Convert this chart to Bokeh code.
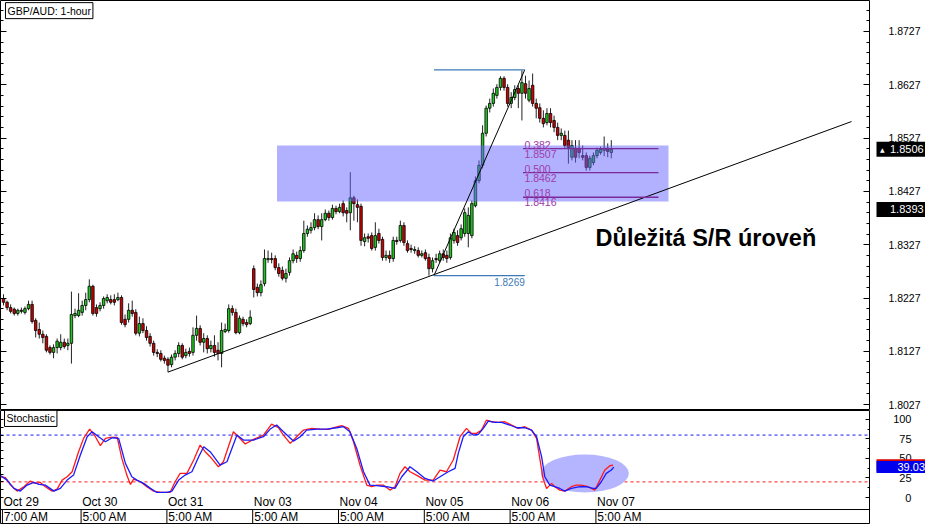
from bokeh.plotting import figure
from bokeh.models import (Range1d, LinearAxis, FixedTicker, Label, Span,
                          ColumnDataSource, PrintfTickFormatter)
from bokeh.layouts import column, row
from bokeh.core.properties import value
from bokeh.embed import file_html
from bokeh.resources import INLINE

# ---------------- data (GBP/AUD 1-hour candles) ----------------
opens = [
    1.8226, 1.8219, 1.8209, 1.8206, 1.8198, 1.8204, 1.8200, 1.8207, 1.8215, 1.8185,
    1.8168, 1.8159, 1.8155, 1.8134, 1.8125, 1.8134, 1.8134, 1.8144, 1.8138, 1.8142,
    1.8194, 1.8194, 1.8200, 1.8213, 1.8224, 1.8249, 1.8209, 1.8207, 1.8213, 1.8222,
    1.8224, 1.8224, 1.8224, 1.8228, 1.8187, 1.8187, 1.8204, 1.8200, 1.8161, 1.8179,
    1.8166, 1.8155, 1.8142, 1.8125, 1.8123, 1.8114, 1.8112, 1.8102, 1.8116, 1.8123,
    1.8138, 1.8119, 1.8127, 1.8125, 1.8157, 1.8170, 1.8144, 1.8151, 1.8132, 1.8138,
    1.8129, 1.8123, 1.8164, 1.8166, 1.8207, 1.8200, 1.8162, 1.8187, 1.8181, 1.8179,
    1.8282, 1.8247, 1.8237, 1.8254, 1.8299, 1.8301, 1.8301, 1.8284, 1.8279, 1.8264,
    1.8275, 1.8297, 1.8307, 1.8301, 1.8316, 1.8348, 1.8354, 1.8359, 1.8374, 1.8361,
    1.8374, 1.8386, 1.8378, 1.8395, 1.8389, 1.8404, 1.8391, 1.8387, 1.8415, 1.8402,
    1.8399, 1.8333, 1.8342, 1.8344, 1.8322, 1.8348, 1.8337, 1.8303, 1.8307, 1.8301,
    1.8335, 1.8335, 1.8363, 1.8329, 1.8320, 1.8316, 1.8316, 1.8307, 1.8312, 1.8303,
    1.8282, 1.8301, 1.8297, 1.8310, 1.8307, 1.8303, 1.8335, 1.8344, 1.8340, 1.8348,
    1.8348, 1.8344, 1.8400, 1.8447, 1.8476, 1.8536, 1.8583, 1.8592, 1.8607, 1.8622,
    1.8639, 1.8622, 1.8592, 1.8603, 1.8620, 1.8611, 1.8629, 1.8598, 1.8626, 1.8592,
    1.8584, 1.8564, 1.8556, 1.8573, 1.8560, 1.8547, 1.8532, 1.8532, 1.8523, 1.8491,
    1.8508, 1.8508, 1.8494, 1.8494, 1.8472, 1.8481, 1.8494, 1.8500, 1.8504, 1.8508,
    1.8500]
highs = [
    1.8234, 1.8222, 1.8215, 1.8209, 1.8207, 1.8209, 1.8211, 1.8222, 1.8222, 1.8189,
    1.8181, 1.8166, 1.8159, 1.8138, 1.8140, 1.8151, 1.8159, 1.8151, 1.8151, 1.8239,
    1.8207, 1.8236, 1.8222, 1.8237, 1.8262, 1.8252, 1.8215, 1.8219, 1.8230, 1.8234,
    1.8232, 1.8234, 1.8237, 1.8232, 1.8196, 1.8217, 1.8222, 1.8206, 1.8192, 1.8189,
    1.8174, 1.8161, 1.8147, 1.8131, 1.8129, 1.8119, 1.8116, 1.8121, 1.8129, 1.8144,
    1.8142, 1.8132, 1.8134, 1.8172, 1.8194, 1.8176, 1.8161, 1.8157, 1.8147, 1.8157,
    1.8144, 1.8181, 1.8179, 1.8215, 1.8213, 1.8207, 1.8194, 1.8192, 1.8187, 1.8204,
    1.8288, 1.8254, 1.8260, 1.8318, 1.8316, 1.8312, 1.8307, 1.8292, 1.8286, 1.8282,
    1.8303, 1.8318, 1.8314, 1.8324, 1.8372, 1.8363, 1.8369, 1.8386, 1.8382, 1.8386,
    1.8393, 1.8391, 1.8402, 1.8400, 1.8404, 1.8410, 1.8397, 1.8463, 1.8419, 1.8412,
    1.8404, 1.8348, 1.8348, 1.8350, 1.8369, 1.8357, 1.8342, 1.8316, 1.8316, 1.8342,
    1.8342, 1.8372, 1.8369, 1.8335, 1.8327, 1.8324, 1.8322, 1.8316, 1.8318, 1.8310,
    1.8303, 1.8310, 1.8316, 1.8318, 1.8316, 1.8348, 1.8357, 1.8354, 1.8365, 1.8395,
    1.8397, 1.8410, 1.8455, 1.8485, 1.8551, 1.8588, 1.8601, 1.8620, 1.8628, 1.8643,
    1.8643, 1.8628, 1.8613, 1.8626, 1.8626, 1.8654, 1.8644, 1.8635, 1.8648, 1.8601,
    1.8592, 1.8579, 1.8583, 1.8583, 1.8569, 1.8556, 1.8545, 1.8541, 1.8541, 1.8523,
    1.8523, 1.8523, 1.8513, 1.8500, 1.8494, 1.8500, 1.8509, 1.8511, 1.8530, 1.8517,
    1.8523]
lows = [
    1.8213, 1.8204, 1.8198, 1.8194, 1.8194, 1.8198, 1.8196, 1.8204, 1.8179, 1.8153,
    1.8151, 1.8142, 1.8125, 1.8121, 1.8114, 1.8123, 1.8129, 1.8132, 1.8129, 1.8104,
    1.8189, 1.8191, 1.8194, 1.8204, 1.8219, 1.8194, 1.8192, 1.8202, 1.8207, 1.8217,
    1.8215, 1.8213, 1.8221, 1.8177, 1.8172, 1.8181, 1.8192, 1.8157, 1.8155, 1.8161,
    1.8147, 1.8136, 1.8119, 1.8116, 1.8108, 1.8104, 1.8088, 1.8097, 1.8110, 1.8116,
    1.8112, 1.8114, 1.8117, 1.8119, 1.8147, 1.8138, 1.8125, 1.8123, 1.8125, 1.8117,
    1.8110, 1.8097, 1.8161, 1.8162, 1.8194, 1.8159, 1.8159, 1.8174, 1.8172, 1.8176,
    1.8228, 1.8230, 1.8230, 1.8249, 1.8293, 1.8292, 1.8279, 1.8267, 1.8260, 1.8256,
    1.8269, 1.8292, 1.8293, 1.8295, 1.8312, 1.8342, 1.8348, 1.8354, 1.8356, 1.8335,
    1.8371, 1.8372, 1.8374, 1.8384, 1.8386, 1.8380, 1.8369, 1.8354, 1.8372, 1.8369,
    1.8325, 1.8324, 1.8331, 1.8316, 1.8316, 1.8329, 1.8297, 1.8297, 1.8293, 1.8295,
    1.8327, 1.8331, 1.8325, 1.8312, 1.8312, 1.8310, 1.8303, 1.8303, 1.8297, 1.8269,
    1.8275, 1.8293, 1.8293, 1.8297, 1.8293, 1.8299, 1.8329, 1.8325, 1.8335, 1.8342,
    1.8322, 1.8339, 1.8397, 1.8442, 1.8470, 1.8530, 1.8575, 1.8586, 1.8601, 1.8616,
    1.8616, 1.8586, 1.8583, 1.8598, 1.8583, 1.8560, 1.8601, 1.8594, 1.8586, 1.8564,
    1.8556, 1.8547, 1.8551, 1.8547, 1.8538, 1.8523, 1.8523, 1.8508, 1.8479, 1.8485,
    1.8481, 1.8489, 1.8485, 1.8466, 1.8466, 1.8476, 1.8489, 1.8496, 1.8493, 1.8491,
    1.8489]
closes = [
    1.8219, 1.8209, 1.8202, 1.8198, 1.8204, 1.8202, 1.8207, 1.8215, 1.8183, 1.8166,
    1.8159, 1.8153, 1.8129, 1.8125, 1.8134, 1.8146, 1.8144, 1.8136, 1.8142, 1.8196,
    1.8198, 1.8204, 1.8213, 1.8224, 1.8249, 1.8198, 1.8198, 1.8213, 1.8226, 1.8228,
    1.8219, 1.8219, 1.8228, 1.8181, 1.8177, 1.8204, 1.8198, 1.8161, 1.8179, 1.8166,
    1.8153, 1.8142, 1.8125, 1.8123, 1.8112, 1.8110, 1.8101, 1.8116, 1.8123, 1.8138,
    1.8116, 1.8125, 1.8123, 1.8157, 1.8170, 1.8144, 1.8151, 1.8132, 1.8138, 1.8125,
    1.8123, 1.8166, 1.8168, 1.8207, 1.8200, 1.8162, 1.8189, 1.8179, 1.8177, 1.8191,
    1.8243, 1.8237, 1.8252, 1.8301, 1.8301, 1.8299, 1.8284, 1.8273, 1.8264, 1.8273,
    1.8297, 1.8310, 1.8301, 1.8316, 1.8348, 1.8356, 1.8359, 1.8374, 1.8361, 1.8374,
    1.8386, 1.8378, 1.8395, 1.8389, 1.8397, 1.8387, 1.8386, 1.8415, 1.8404, 1.8397,
    1.8335, 1.8340, 1.8339, 1.8320, 1.8344, 1.8335, 1.8303, 1.8307, 1.8301, 1.8335,
    1.8333, 1.8363, 1.8331, 1.8316, 1.8318, 1.8318, 1.8307, 1.8310, 1.8301, 1.8282,
    1.8297, 1.8299, 1.8310, 1.8303, 1.8301, 1.8340, 1.8350, 1.8331, 1.8357, 1.8387,
    1.8382, 1.8404, 1.8447, 1.8476, 1.8536, 1.8583, 1.8592, 1.8611, 1.8622, 1.8639,
    1.8622, 1.8592, 1.8603, 1.8618, 1.8611, 1.8631, 1.8611, 1.8620, 1.8592, 1.8583,
    1.8564, 1.8554, 1.8573, 1.8556, 1.8547, 1.8532, 1.8536, 1.8513, 1.8509, 1.8513,
    1.8491, 1.8500, 1.8491, 1.8472, 1.8489, 1.8494, 1.8504, 1.8506, 1.8508, 1.8502,
    1.8506]

# Stochastic %K (red) and %D (blue), sampled along the candle index
k_x = [-0.8, 0.6, 2.0, 3.8, 5.7, 7.5, 8.9, 10.3, 11.7, 13.6,
       15.0, 16.4, 17.8, 19.2, 21.0, 22.4, 24.1, 25.7, 27.1, 28.5,
       29.9, 31.8, 33.1, 34.5, 35.5, 36.4, 38.3, 40.1, 42.0, 43.9,
       45.7, 46.6, 48.0, 49.4, 51.3, 53.2, 55.0, 56.4, 57.8, 60.1,
       61.5, 64.3, 65.7, 67.6, 69.9, 72.7, 75.0, 76.9, 78.3, 80.2,
       82.0, 83.9, 86.2, 88.5, 90.9, 92.7, 94.6, 96.5, 97.9, 99.7,
       101.6, 103.0, 104.4, 106.2, 108.1, 109.5, 110.9, 112.3, 113.7, 115.5,
       117.9, 120.2, 122.1, 123.9, 125.8, 127.7, 129.5, 130.9, 132.3, 133.7,
       135.1, 136.5, 138.4, 140.2, 142.1, 144.0, 145.8, 147.7, 149.1, 150.0,
       150.9, 151.9, 153.3, 154.2, 155.6, 157.0, 158.8, 160.2, 161.6, 163.5,
       165.4, 166.8, 168.2, 169.6, 170.5]
k_vals = [26.6, 25.3, 15.9, 8.2, 13.8, 21.1, 18.1, 19.3, 13.8, 8.2,
          10.8, 22.3, 26.6, 33.0, 58.7, 75.8, 87.7, 77.9, 66.4, 75.8,
          77.0, 77.0, 50.1, 28.7, 16.8, 23.6, 20.2, 13.8, 8.2, 6.5,
          6.5, 6.5, 20.2, 30.9, 30.9, 48.0, 67.2, 58.7, 52.3, 39.4,
          45.8, 84.3, 77.9, 68.5, 74.5, 80.0, 94.1, 89.4, 80.0, 69.4,
          77.9, 86.4, 88.6, 87.7, 87.3, 89.9, 92.0, 88.6, 71.5, 41.6,
          15.9, 13.8, 15.9, 15.9, 9.5, 13.8, 30.9, 39.4, 33.0, 28.7,
          22.3, 22.3, 35.2, 33.0, 48.0, 77.9, 88.6, 82.2, 82.2, 86.4,
          99.3, 97.1, 96.3, 97.1, 92.9, 88.6, 90.7, 86.4, 75.8, 50.1,
          24.5, 11.6, 18.1, 13.8, 9.5, 8.2, 13.8, 15.9, 15.9, 13.8,
          9.5, 22.3, 35.2, 40.7, 41.6]
d_x = [-0.8, 1.0, 2.9, 4.7, 6.6, 8.5, 9.9, 11.7, 14.1, 15.9,
       17.8, 19.6, 21.5, 23.4, 24.8, 26.6, 28.5, 30.4, 32.2, 34.1,
       35.9, 37.3, 39.2, 41.1, 42.9, 45.7, 47.1, 49.0, 50.8, 52.7,
       54.6, 56.0, 57.8, 60.6, 62.5, 65.3, 67.1, 69.9, 72.7, 74.6,
       76.4, 78.3, 81.1, 83.0, 84.8, 87.6, 90.4, 93.2, 95.1, 96.9,
       98.8, 100.7, 102.5, 104.4, 107.2, 109.5, 111.4, 113.7, 115.6, 117.9,
       120.2, 122.1, 124.4, 126.3, 127.2, 128.6, 130.0, 131.4, 132.8, 134.2,
       135.6, 137.4, 139.3, 141.6, 143.5, 145.8, 147.7, 149.1, 150.5, 151.4,
       152.8, 154.2, 155.6, 157.0, 158.8, 161.2, 163.0, 164.9, 165.8, 167.2,
       168.6, 170.0, 170.7]
d_vals = [27.9, 22.3, 11.7, 8.2, 15.9, 19.3, 16.8, 15.9, 8.2, 11.7,
          22.3, 28.7, 54.4, 77.9, 84.3, 77.9, 71.5, 76.6, 75.8, 43.7,
          26.6, 22.3, 18.1, 11.7, 6.5, 6.5, 8.2, 22.3, 28.7, 33.0,
          52.3, 65.1, 58.7, 41.6, 45.8, 80.0, 73.6, 73.6, 77.9, 87.7,
          92.9, 84.3, 72.3, 77.9, 86.4, 87.7, 87.7, 89.4, 90.7, 84.3,
          62.9, 33.0, 15.9, 15.1, 13.8, 11.6, 26.6, 39.4, 33.0, 24.5,
          21.1, 26.6, 33.0, 37.3, 56.5, 77.9, 84.3, 80.0, 80.9, 88.6,
          98.0, 96.3, 96.3, 92.9, 89.4, 89.4, 86.4, 77.9, 52.3, 26.6,
          15.9, 13.8, 11.6, 8.2, 11.6, 13.8, 13.8, 11.6, 11.6, 20.2,
          30.9, 35.2, 39.03]

# axis ticks / labels
price_ticks = [1.8027, 1.8127, 1.8227, 1.8327, 1.8427, 1.8527, 1.8627, 1.8727]
stoch_ticks = [0, 25, 50, 75, 100]
stoch_levels = [80, 20]
date_idx = [0, 22, 46, 70, 94, 118, 142, 166]
date_day = ["Oct 29", "Oct 30", "Oct 31", "Nov 03", "Nov 04", "Nov 05", "Nov 06", "Nov 07"]
date_time = ["7:00 AM", "5:00 AM", "5:00 AM", "5:00 AM", "5:00 AM", "5:00 AM", "5:00 AM", "5:00 AM"]

# drawing-tool annotations
trend_idx = [46, 237.2]
trend_price = [1.8088, 1.8558]
swing_idx = [120.4, 145.8]
swing_price = [1.8269, 1.8655]
fib_ratios = [0.382, 0.500, 0.618]
fib_prices = [1.8507, 1.8462, 1.8416]
fib_span = [145.3, 183.2]
zone_idx = [76.5, 186.0]
zone_price = [1.8408, 1.8513]
sr_text = "Důležitá S/R úroveň"
sr_pos = [165.6, 1.8339]
marker_prices = [1.8506, 1.8393]     # current bid / horizontal line markers
stoch_markers = [41.4, 39.03]        # %K (hidden behind) and %D value markers

FONT = "Liberation Sans"
NB = "\u00a0"


# ---------------- helpers ----------------
def tick_axis(positions, length):
    # tick marks only (no labels): minor ticks of an axis that has no major ticks
    return LinearAxis(ticker=FixedTicker(ticks=[], minor_ticks=positions),
                      major_tick_in=0, major_tick_out=0, minor_tick_in=length,
                      minor_tick_out=0, axis_line_color=None, major_label_standoff=0)


def base_fig(**kw):
    f = figure(output_backend="svg", toolbar_location=None, x_axis_location=None,
               title=None, min_border_left=0, min_border_right=0, min_border_top=0,
               min_border_bottom=0, background_fill_color="white",
               border_fill_color="white", **kw)
    f.grid.visible = False
    return f


xr = Range1d(-0.84, 242.5)
yr1 = Range1d(1.8016, 1.8785)
yr2 = Range1d(-34.6, 111.5)

# ---------------- main price panel ----------------
n = len(closes)
idx = list(range(n))
src = ColumnDataSource(dict(
    x=idx, high=highs, low=lows,
    top=[max(o, c) for o, c in zip(opens, closes)],
    bottom=[min(o, c) for o, c in zip(opens, closes)],
    color=["#1ec81e" if c >= o else "#cc0000" for o, c in zip(opens, closes)],
))

minor_p = [round(1.8007 + 0.002 * i, 4) for i in range(40)]
minor_p = [t for t in minor_p if t not in price_ticks]

p1 = base_fig(frame_width=870, frame_height=410, x_range=xr, y_range=yr1,
              y_axis_location=None, outline_line_color="black")
p1.add_layout(tick_axis(price_ticks, 6), "left")
p1.add_layout(tick_axis(minor_p, 3), "left")
p1.add_layout(tick_axis(price_ticks, 7), "right")
p1.add_layout(tick_axis(minor_p, 4), "right")

p1.segment(x0="x", y0="low", x1="x", y1="high", source=src, line_color="#222222", line_width=1)
p1.vbar(x="x", width=0.7, top="top", bottom="bottom", fill_color="color",
        line_color="black", line_width=0.8, source=src)

p1.quad(left=[zone_idx[0]], right=[zone_idx[1]], bottom=[zone_price[0]], top=[zone_price[1]],
        fill_color="#6464ff", fill_alpha=0.5, line_color=None)
p1.line(trend_idx, trend_price, line_color="black", line_width=1)

p1.line(swing_idx, swing_price, line_color="black", line_width=1)
p1.line(swing_idx, [swing_price[1], swing_price[1]], line_color="#3d7ab8", line_width=1.2)
p1.line(swing_idx, [swing_price[0], swing_price[0]], line_color="#3d7ab8", line_width=1.2)
p1.text(x=[swing_idx[1]], y=[swing_price[0]], text=[f"{swing_price[0]:.4f}"],
        text_font=value(FONT), text_font_size="10px", text_color="#3d7ab8",
        text_align="right", text_baseline="top", y_offset=2)
p1.segment(x0=[fib_span[0]] * 3, x1=[fib_span[1]] * 3, y0=fib_prices, y1=fib_prices,
           line_color="#7a2a9a", line_width=1.3)
p1.text(x=[fib_span[0] + 0.4] * 3, y=fib_prices, text=[f"{r:.3f}" for r in fib_ratios],
        text_font=value(FONT), text_font_size="10.5px", text_color="#a03ca8",
        text_align="left", text_baseline="bottom")
p1.text(x=[fib_span[0] + 0.4] * 3, y=fib_prices, text=[f"{v:.4f}" for v in fib_prices],
        text_font=value(FONT), text_font_size="10.5px", text_color="#a03ca8",
        text_align="left", text_baseline="top", y_offset=1)

p1.text(x=[sr_pos[0]], y=[sr_pos[1]], text=[sr_text], text_font=value(FONT),
        text_font_style="bold", text_font_size="23.5px", text_color="black",
        text_align="left", text_baseline="middle")

p1.add_layout(Label(x=0.55, y=1.8766, text="GBP/AUD: 1-hour", text_font=FONT,
                    text_font_size="10.5px", text_alpha=0, background_fill_color="#9a9a9a",
                    text_baseline="middle", padding=2, x_offset=2, y_offset=-2))
p1.add_layout(Label(x=0.55, y=1.8766, text="GBP/AUD: 1-hour", text_font=FONT,
                    text_font_size="10.5px", text_color="black", background_fill_color="white",
                    border_line_color="black", text_baseline="middle", padding=2))

# ---------------- price scale column ----------------
q1 = base_fig(frame_width=50, frame_height=410, x_range=Range1d(0, 1), y_range=yr1,
              y_axis_location="left", outline_line_color=None)
a1 = q1.yaxis[0]
a1.ticker = FixedTicker(ticks=price_ticks)
a1.formatter = PrintfTickFormatter(format=NB * 5 + "%.4f")
a1.major_tick_in = 0
a1.major_tick_out = 0
a1.minor_tick_in = 0
a1.minor_tick_out = 0
a1.axis_line_color = None
a1.major_label_standoff = -44
a1.major_label_text_font = FONT
a1.major_label_text_font_size = "10.5px"
a1.major_label_text_color = "black"

q1.quad(left=[0] * 2, right=[1] * 2, bottom=[m - 0.0014 for m in marker_prices],
        top=[m + 0.0014 for m in marker_prices], fill_color="black", line_color=None,
        level="overlay")
q1.text(x=[0.27] * 2, y=marker_prices, text=[f"{m:.4f}" for m in marker_prices],
        text_font=value(FONT), text_font_size="11px", text_color="white",
        text_align="left", text_baseline="middle", level="overlay")
q1.text(x=[0.07], y=[marker_prices[0]], text=["\u25b2"], text_font=value("DejaVu Sans"),
        text_font_size="6px", text_color="white", text_align="left",
        text_baseline="middle", level="overlay")

# ---------------- stochastic panel ----------------
p2 = base_fig(frame_width=870, frame_height=114, x_range=xr, y_range=yr2,
              y_axis_location=None, outline_line_color="black")
p2.add_layout(tick_axis([0, 10, 20, 30, 40, 50, 60, 70, 80, 90, 100], 3), "left")
p2.add_layout(tick_axis(stoch_ticks, 5), "right")
p2.add_layout(tick_axis([12.5, 37.5, 62.5, 87.5], 3), "right")

p2.add_layout(Span(location=stoch_levels[0], dimension="width", line_color="#1a1aff",
                   line_dash="3 3", line_width=1, level="underlay"))
p2.add_layout(Span(location=stoch_levels[1], dimension="width", line_color="#ff1a1a",
                   line_dash="3 3", line_width=1, level="underlay"))
p2.ellipse(x=[162.6], y=[30.8], width=24.6, height=48.7, fill_color="#b4b4ff", line_color=None)
p2.line(k_x, k_vals, line_color="#ff1a1a", line_width=1.3)
p2.line(d_x, d_vals, line_color="#1a1aff", line_width=1.3)

row_line = -15.4
p2.add_layout(Span(location=row_line, dimension="width", line_color="black", line_width=1))
sep_x = [d - 0.3 for d in date_idx]
p2.segment(x0=sep_x, x1=sep_x, y0=[row_line] * len(sep_x), y1=[-34.6] * len(sep_x),
           line_color="black", line_width=1)
p2.text(x=date_idx, y=[-6.4] * len(date_idx), text=date_day, text_font=value(FONT),
        text_font_size="12px", text_color="black", text_align="left", text_baseline="middle")
p2.text(x=[d + 0.1 for d in date_idx], y=[-25.5] * len(date_idx), text=date_time,
        text_font=value(FONT), text_font_size="12px", text_color="black",
        text_align="left", text_baseline="middle")

p2.add_layout(Label(x=0.28, y=101.3, text="Stochastic", text_font=FONT, text_font_size="10.5px",
                    text_alpha=0, background_fill_color="#9a9a9a", text_baseline="middle",
                    padding=2, x_offset=2, y_offset=-2))
p2.add_layout(Label(x=0.28, y=101.3, text="Stochastic", text_font=FONT, text_font_size="10.5px",
                    text_color="black", background_fill_color="white", border_line_color="black",
                    text_baseline="middle", padding=2))

# ---------------- stochastic scale column ----------------
q2 = base_fig(frame_width=50, frame_height=114, x_range=Range1d(0, 1), y_range=yr2,
              y_axis_location="left", outline_line_color=None)
a2 = q2.yaxis[0]
a2.ticker = FixedTicker(ticks=stoch_ticks)
a2.formatter = PrintfTickFormatter(format=NB * 6 + "%d")
a2.major_tick_in = 0
a2.major_tick_out = 0
a2.minor_tick_in = 0
a2.minor_tick_out = 0
a2.axis_line_color = None
a2.major_label_standoff = -35
a2.major_label_text_font = FONT
a2.major_label_text_font_size = "11px"
a2.major_label_text_color = "black"

q2.quad(left=[0] * 2, right=[1] * 2, bottom=[m - 7.7 for m in stoch_markers],
        top=[m + 7.7 for m in stoch_markers], fill_color=["#dd0000", "#0000ee"],
        line_color=None, level="overlay")
q2.text(x=[0.97], y=[stoch_markers[1]], text=[f"{stoch_markers[1]:.2f}"],
        text_font=value(FONT), text_font_size="11px", text_color="white",
        text_align="right", text_baseline="middle", level="overlay")

layout = row(column(p1, p2), column(q1, q2))
open("out.html", "w").write(file_html(layout, INLINE))
